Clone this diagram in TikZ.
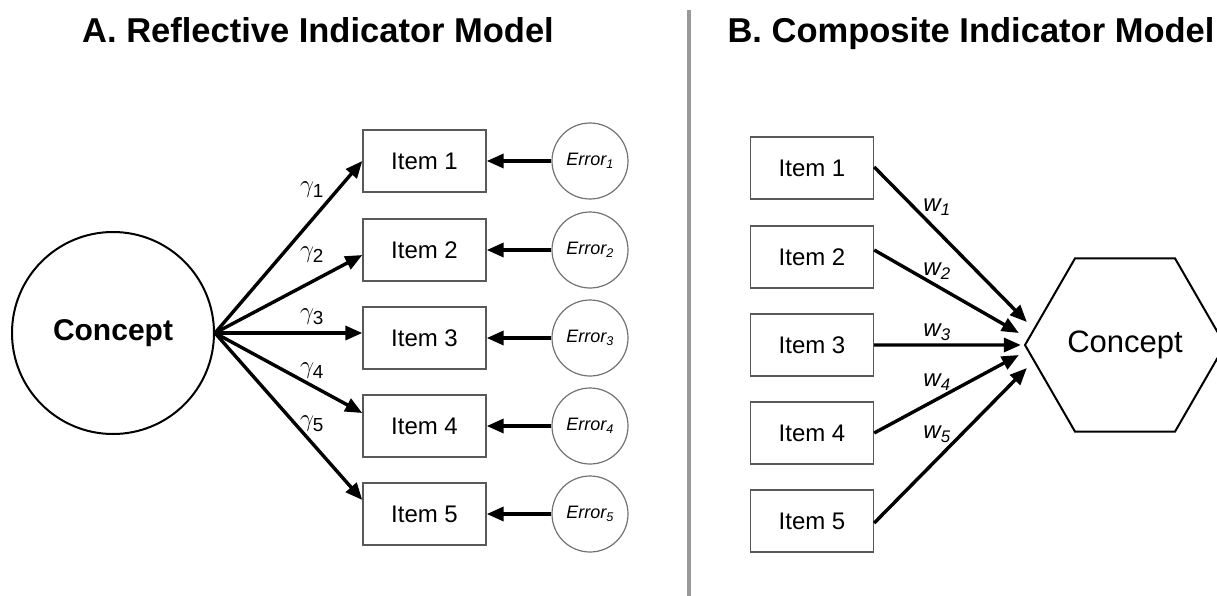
\documentclass[tikz,border=0pt]{standalone}
\usepackage{fontspec}
\setmainfont{Liberation Sans}
\usepackage{amsmath}
\usetikzlibrary{arrows.meta,shapes.geometric,calc}
\begin{document}
\begin{tikzpicture}[x=1pt,y=-1pt,
  itembox/.style={draw=black!65,line width=1.4pt,minimum width=123pt,minimum height=62pt,inner sep=0pt,font=\fontsize{24}{28}\selectfont},
  errnode/.style={circle,draw=black!55,line width=1.2pt,minimum size=76pt,inner sep=0pt,font=\fontsize{18}{20}\selectfont\itshape},
  arr/.style={line width=3.4pt,-{Triangle[length=17pt,width=14pt]}},
  glbl/.style={font=\fontsize{27}{30}\selectfont,inner sep=0pt},
  wlbl/.style={font=\fontsize{24}{26}\selectfont\itshape,inner sep=0pt},
  ttl/.style={font=\fontsize{34.5}{40}\selectfont\bfseries,anchor=base,inner sep=0pt}]
\useasboundingbox (0,0) rectangle (1217,596);
\fill[white] (0,0) rectangle (1217,596);

% titles and divider
\node[ttl] (tA) at (318,43) {A. Reflective Indicator Model};
\node[ttl] (tB) at (971,43) {B. Composite Indicator Model};
\coordinate (dtop) at (689,10);
\coordinate (dbot) at (689,596);
\draw[line width=4pt,black!40] (dtop) -- (dbot);

% ---------- Panel A ----------
\node[circle,draw,line width=2pt,minimum size=202pt,inner sep=0pt,font=\fontsize{30}{34}\selectfont\bfseries] (cA) at (113,333) {Concept};
\foreach \i/\y in {1/161,2/250,3/338,4/426,5/514}{
  \node[itembox] (a\i) at (424.5,\y) {Item \i};
  \node[errnode] (e\i) at (590,\y) {Error\textsubscript{\i}};
  \draw[arr] (e\i) -- (a\i);
}
\draw[arr] (cA.east) -- (a1.west);
\draw[arr] (cA.east) -- ($(a2.west)+(0,5)$);
\draw[arr] (cA.east) -- ($(a3.west)+(0,-5)$);
\draw[arr] (cA.east) -- ($(a4.west)+(0,-13)$);
\draw[arr] (cA.east) -- ($(a5.west)+(0,-14)$);
\node[glbl] (g1) at (312,190) {$\gamma_{\text{1}}$};
\node[glbl] (g2) at (312,255) {$\gamma_{\text{2}}$};
\node[glbl] (g3) at (312,317) {$\gamma_{\text{3}}$};
\node[glbl] (g4) at (312,371) {$\gamma_{\text{4}}$};
\node[glbl] (g5) at (312,424) {$\gamma_{\text{5}}$};

% ---------- Panel B ----------
\node[regular polygon,regular polygon sides=6,draw,line width=2pt,minimum size=200pt,inner sep=0pt,font=\fontsize{31}{35}\selectfont] (cB) at (1125,345) {Concept};
\coordinate (hv) at (cB.west);
\foreach \i/\y in {1/168,2/257,3/345,4/433,5/521}{
  \node[itembox] (b\i) at (812,\y) {Item \i};
}
\draw[arr] ($(b1.east)+(0,-1)$) -- ($(hv)+(3,-23)$);
\draw[arr] ($(b2.east)+(0,-7)$) -- ($(hv)+(-5,-12)$);
\draw[arr] (b3.east) -- ($(hv)+(-3,0)$);
\draw[arr] (b4.east) -- ($(hv)+(-5,10)$);
\draw[arr] ($(b5.east)+(0,2)$) -- ($(hv)+(3,23)$);
\node[wlbl] (w1) at (937,207) {w\textsubscript{1}};
\node[wlbl] (w2) at (937,271) {w\textsubscript{2}};
\node[wlbl] (w3) at (937,332) {w\textsubscript{3}};
\node[wlbl] (w4) at (937,382) {w\textsubscript{4}};
\node[wlbl] (w5) at (937,434) {w\textsubscript{5}};
\end{tikzpicture}
\end{document}
